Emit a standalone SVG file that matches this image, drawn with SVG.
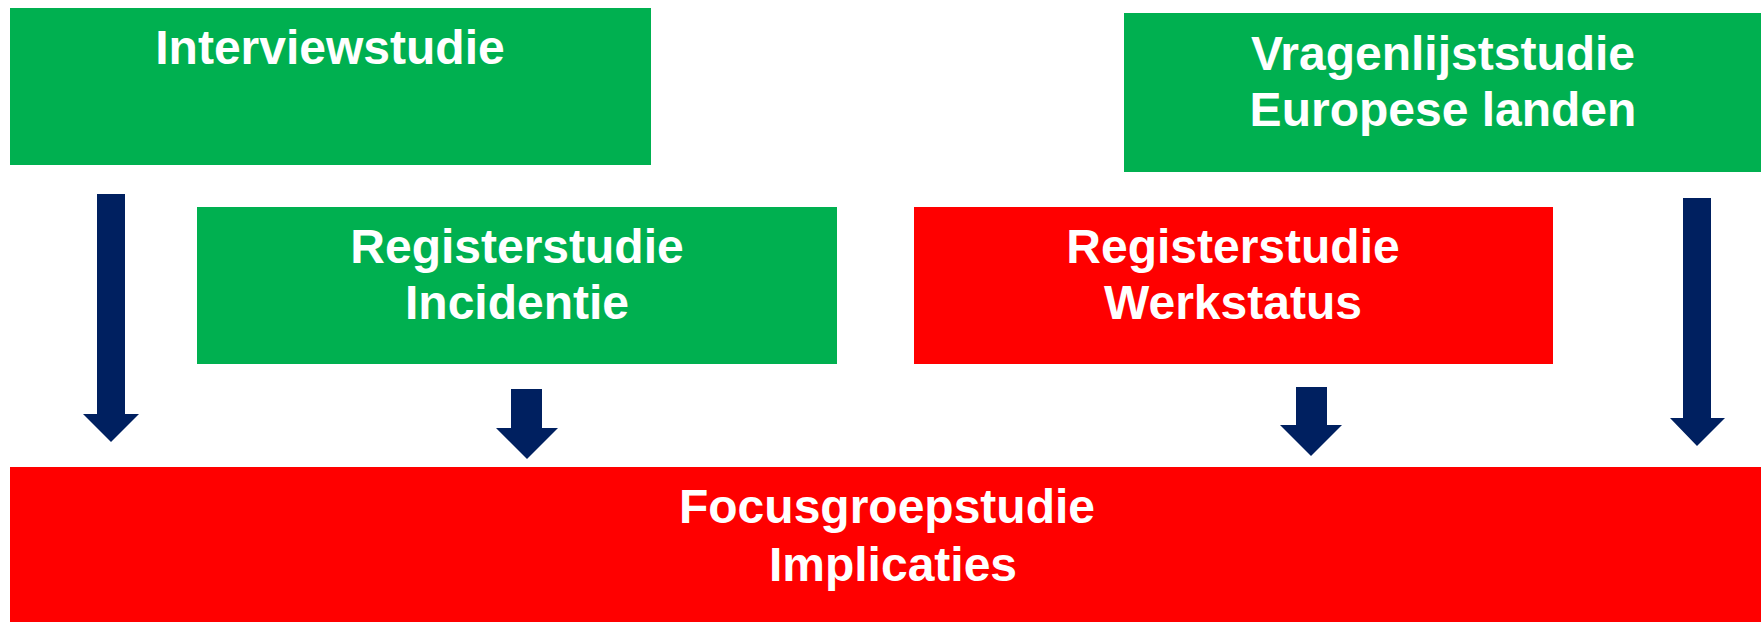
<svg xmlns="http://www.w3.org/2000/svg" width="1761" height="622" viewBox="0 0 1761 622">
<style>
.g{fill:#00B050}
.r{fill:#FF0000}
.a{fill:#002060}
.t{font-family:"Liberation Sans",Arial,sans-serif;font-weight:bold;font-size:48px;fill:#FFFFFF;text-anchor:middle}
</style>
<rect width="1761" height="622" fill="#FFFFFF"/>
<g id="interviewstudie">
<rect class="g" x="10" y="8" width="641" height="157"/>
<text class="t" x="330" y="64">Interviewstudie</text>
</g>
<g id="vragenlijststudie">
<rect class="g" x="1124" y="13" width="637" height="159"/>
<text class="t" x="1443" y="70">Vragenlijststudie</text>
<text class="t" x="1443" y="126">Europese landen</text>
</g>
<g id="registerstudie-incidentie">
<rect class="g" x="197" y="207" width="640" height="157"/>
<text class="t" x="517" y="263">Registerstudie</text>
<text class="t" x="517" y="319">Incidentie</text>
</g>
<g id="registerstudie-werkstatus">
<rect class="r" x="914" y="207" width="639" height="157"/>
<text class="t" x="1233" y="263">Registerstudie</text>
<text class="t" x="1233" y="319">Werkstatus</text>
</g>
<g id="focusgroepstudie">
<rect class="r" x="10" y="467" width="1751" height="155"/>
<text class="t" x="887" y="523">Focusgroepstudie</text>
<text class="t" x="893" y="581">Implicaties</text>
</g>
<g id="connectors">
<polygon class="a" points="97,194 125,194 125,414 139,414 111,442 83,414 97,414"/>
<polygon class="a" points="511,389 542,389 542,428 558,428 527,459 496,428 511,428"/>
<polygon class="a" points="1296,387 1327,387 1327,425 1342,425 1311,456 1280,425 1296,425"/>
<polygon class="a" points="1683,198 1711,198 1711,418 1725,418 1697,446 1670,418 1683,418"/>
</g>
</svg>
